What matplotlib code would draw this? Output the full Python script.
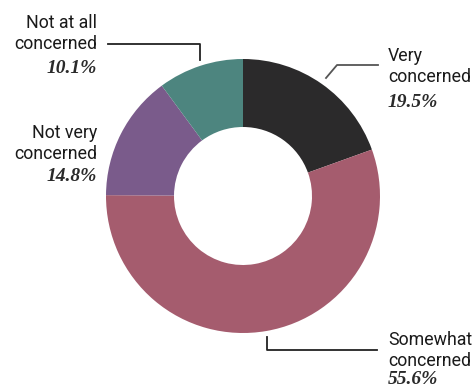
import matplotlib
matplotlib.use('Agg')
import matplotlib.pyplot as plt

labels = ['Very\nconcerned', 'Somewhat\nconcerned', 'Not very\nconcerned', 'Not at all\nconcerned']
values = [19.5, 55.6, 14.8, 10.1]
colors = ['#2b2a2b', '#a55c6e', '#7a5b8b', '#4d857f']

W, H = 477, 390

def py(y):
    # pixel y (from top) to data y
    return H - y

fig = plt.figure(figsize=(W / 100, H / 100), dpi=100)
ax = fig.add_axes([0, 0, 1, 1])
ax.set_xlim(0, W)
ax.set_ylim(0, H)
ax.set_aspect('equal')
ax.axis('off')

ax.pie(values, colors=colors, startangle=90, counterclock=False,
       center=(243, py(196)), radius=137,
       wedgeprops=dict(width=68, edgecolor='none'))
ax.set_xlim(0, W)
ax.set_ylim(0, H)

# leader lines
lc = '#222222'
ax.plot([108, 200, 200], [py(44), py(44), py(60)], color=lc, lw=1.3)
ax.plot([378, 337, 326], [py(65), py(65), py(78)], color='#555555', lw=1.3)
ax.plot([267, 267, 377], [py(337), py(350), py(350)], color=lc, lw=1.3)

sans = dict(family='Roboto', fontsize=12.8, color='#1a1a1a', linespacing=1.2)
pct = dict(family='Liberation Serif', fontsize=14, style='italic', weight='bold', color='#2a2a2a')

# (label, value, x, label top, pct baseline, ha)
spots = [
    (labels[0], values[0], 388, 47, 107, 'left'),
    (labels[1], values[1], 388, 331, 384, 'left'),
    (labels[2], values[2], 97, 124, 181, 'right'),
    (labels[3], values[3], 97, 14, 73, 'right'),
]
for lab, v, x, y, yp, ha in spots:
    ax.text(x, py(y), lab, ha=ha, va='top', **sans)
    ax.text(x, py(yp), '{:.1f}%'.format(v), ha=ha, va='baseline', **pct)

fig.savefig('out.png', dpi=100)
